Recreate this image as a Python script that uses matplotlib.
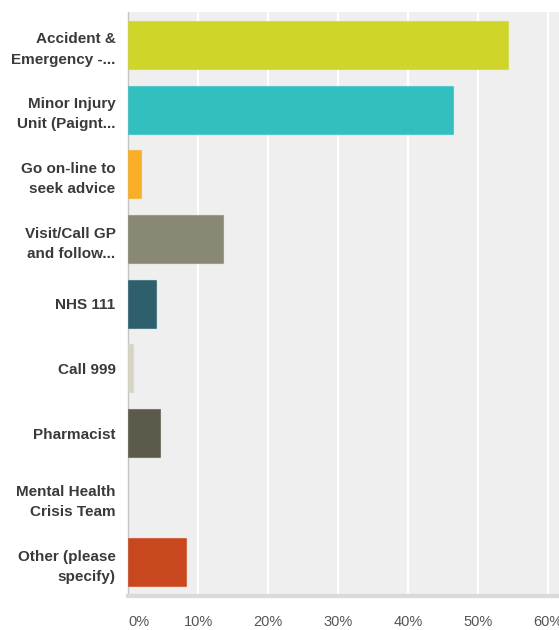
import matplotlib.pyplot as plt
from matplotlib.ticker import FuncFormatter

CATEGORIES = [
    "Accident &\nEmergency -...",
    "Minor Injury\nUnit (Paignt...",
    "Go on-line to\nseek advice",
    "Visit/Call GP\nand follow...",
    "NHS 111",
    "Call 999",
    "Pharmacist",
    "Mental Health\nCrisis Team",
    "Other (please\nspecify)",
]
PERCENTS = [54.3, 46.4, 1.8, 13.6, 4.0, 0.7, 4.6, 0.0, 8.3]
COLORS = [
    "#D0D52A", "#33BEC0", "#F8AE25", "#888875", "#2D5F6D",
    "#D6D4C2", "#5C5A4A", "#A0A0A0", "#C9471E",
]
TICKS = [0, 10, 20, 30, 40, 50, 60]

W, H = 559, 630
fig = plt.figure(figsize=(W / 100, H / 100), dpi=100)
fig.patch.set_facecolor("white")

# axes box in pixels: left 128, top 12, bottom 596, running past the right edge
ax = fig.add_axes([128 / W, (H - 596) / H, 435 / W, (596 - 12) / H])
ax.set_facecolor("#EFEFEF")

ypos = list(range(len(CATEGORIES)))
edges = [c + "99" if v > 0 else "none" for c, v in zip(COLORS, PERCENTS)]
ax.barh(ypos, PERCENTS, height=0.74, color=COLORS,
        edgecolor=edges, linewidth=0.8, zorder=3)

ax.set_xlim(0, 62.1)
ax.set_ylim(len(CATEGORIES) - 0.5 + 0.02, -0.51)
ax.set_xticks(TICKS)
ax.xaxis.set_major_formatter(FuncFormatter(lambda v, _: f"{v:.0f}%"))
ax.xaxis.grid(True, color="white", linewidth=1.6, zorder=1)
ax.set_axisbelow(True)

ax.set_yticks(ypos, labels=CATEGORIES)
for lab in ax.get_yticklabels():
    lab.set_fontweight("bold")
    lab.set_fontsize(11)
    lab.set_color("#3A3A3A")
    lab.set_family("Liberation Sans")
    lab.set_linespacing(1.55)

for lab in ax.get_xticklabels():
    lab.set_fontsize(10.5)
    lab.set_color("#555555")
    lab.set_family("Liberation Sans")
ax.get_xticklabels()[0].set_ha("left")

ax.tick_params(axis="y", length=0, pad=9)
ax.tick_params(axis="x", length=0, pad=14)

for name in ("top", "right"):
    ax.spines[name].set_visible(False)
ax.spines["left"].set_color("#C4C4C4")
ax.spines["left"].set_linewidth(1.0)
ax.spines["bottom"].set_color("#DADADA")
ax.spines["bottom"].set_linewidth(3.0)

fig.savefig("out.png", dpi=100, facecolor="white")
